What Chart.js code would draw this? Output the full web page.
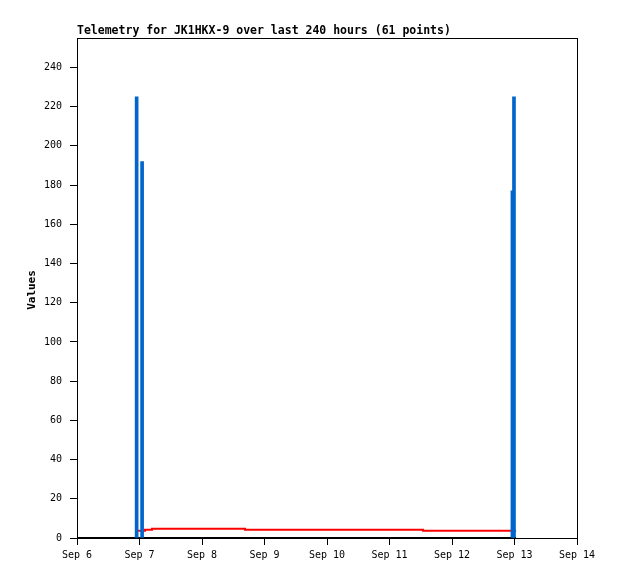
<!DOCTYPE html>
<html>
<head>
<meta charset="utf-8">
<script src="https://cdn.jsdelivr.net/npm/chart.js@4.4.1/dist/chart.umd.min.js"></script>
<style>
  html, body { margin: 0; padding: 0; background: #fff; }
  #wrap { width: 618px; height: 579px; }
</style>
</head>
<body>
<div id="wrap"><canvas id="chart"></canvas></div>
<script>
// ---------------- DATA (hours since Sep 6 00:00) ----------------
const dayLabels = ["Sep 6", "Sep 7", "Sep 8", "Sep 9", "Sep 10", "Sep 11", "Sep 12", "Sep 13", "Sep 14"];

const blueHours = [22.9, 25.0, 167.2, 167.8];
const blueValues = [225, 192, 177, 225];

const redHours = [22.9, 26.1, 26.1, 28.8, 28.8, 64.5, 64.5, 132.9, 132.9, 168.6];
const redValues = [3.7, 3.7, 4.2, 4.2, 4.75, 4.75, 4.2, 4.2, 3.7, 3.7];

const blackHours = [0, 168.6];
const blackValues = [0, 0];

const titleText = "Telemetry for JK1HKX-9 over last 240 hours (61 points)";
const yTitle = "Values";

function toPoints(xs, ys) {
    return xs.map((x, i) => ({ x: x, y: ys[i] }));
}

// ---------------- FRAME + TITLES ----------------
const framePlugin = {
    id: "frame",
    afterDraw(chart) {
        const { ctx, chartArea } = chart;
        ctx.save();
        ctx.strokeStyle = "#000";
        ctx.lineWidth = 1;
        ctx.strokeRect(chartArea.left + 0.5, chartArea.top + 0.5,
            chartArea.right - chartArea.left, chartArea.bottom - chartArea.top);
        ctx.fillStyle = "#000";
        ctx.font = "bold 11.5px 'DejaVu Sans Mono', monospace";
        ctx.textAlign = "left";
        ctx.textBaseline = "alphabetic";
        ctx.fillText(titleText, chartArea.left, 34);
        ctx.translate(32, (chartArea.top + chartArea.bottom) / 2 + 2);
        ctx.rotate(-Math.PI / 2);
        ctx.textAlign = "center";
        ctx.textBaseline = "middle";
        ctx.font = "bold 11px 'DejaVu Sans Mono', monospace";
        ctx.fillText(yTitle, 0, 0);
        ctx.restore();
    }
};

// ---------------- CHART ----------------
new Chart(document.getElementById("chart"), {
    type: "line",
    data: {
        datasets: [
            {
                type: "line",
                data: toPoints(blackHours, blackValues),
                borderColor: "#000",
                borderWidth: 2,
                pointRadius: 0,
                clip: 3,
                order: 3
            },
            {
                type: "line",
                data: toPoints(redHours, redValues),
                borderColor: "#ff0000",
                borderWidth: 2,
                pointRadius: 0,
                clip: 3,
                order: 2
            },
            {
                type: "bar",
                data: toPoints(blueHours, blueValues),
                backgroundColor: "#0066cc",
                barThickness: 3,
                grouped: false,
                order: 1
            }
        ]
    },
    options: {
        responsive: true,
        maintainAspectRatio: false,
        animation: false,
        layout: { padding: { left: 0, right: 41, top: 38, bottom: 0 } },
        plugins: {
            legend: { display: false },
            tooltip: { enabled: false }
        },
        scales: {
            x: {
                type: "linear",
                min: 0,
                max: 192,
                offset: false,
                afterFit(scale) { scale.height = 41; },
                border: { display: true, color: "#000" },
                grid: { drawOnChartArea: false, offset: false, color: "#000", tickLength: 7 },
                ticks: {
                    stepSize: 24,
                    includeBounds: false,
                    maxRotation: 0,
                    autoSkip: false,
                    padding: 4,
                    color: "#000",
                    font: { family: "'DejaVu Sans Mono', monospace", size: 10 },
                    callback: (v) => dayLabels[Math.round(v / 24)]
                }
            },
            y: {
                type: "linear",
                min: 0,
                max: 255,
                afterFit(scale) { scale.width = 77; },
                border: { display: true, color: "#000" },
                grid: { drawOnChartArea: false, color: "#000", tickLength: 7 },
                ticks: {
                    stepSize: 20,
                    includeBounds: false,
                    padding: 8,
                    color: "#000",
                    font: { family: "'DejaVu Sans Mono', monospace", size: 10 }
                }
            }
        }
    },
    plugins: [framePlugin]
});
</script>
</body>
</html>
